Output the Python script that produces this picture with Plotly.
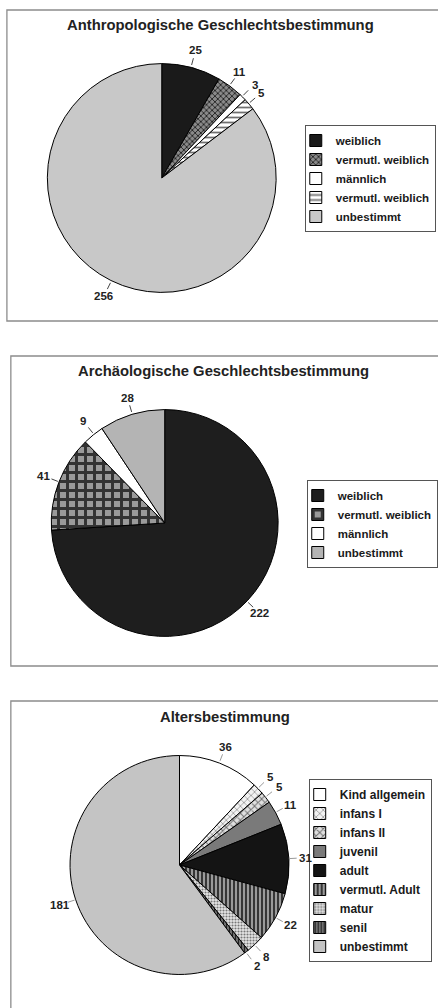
import math
import plotly.graph_objects as go

W, H = 438, 1008

# ---------------- data ----------------
title1 = "Anthropologische Geschlechtsbestimmung"
labels1 = ["weiblich", "vermutl. weiblich", "männlich", "vermutl. weiblich\u200b", "unbestimmt"]
values1 = [25, 11, 3, 5, 256]

title2 = "Archäologische Geschlechtsbestimmung"
labels2 = ["weiblich", "vermutl. weiblich", "männlich", "unbestimmt"]
values2 = [222, 41, 9, 28]

title3 = "Altersbestimmung"
labels3 = ["Kind allgemein", "infans I", "infans II", "juvenil", "adult",
           "vermutl. Adult", "matur", "senil", "unbestimmt"]
values3 = [36, 5, 5, 11, 31, 22, 8, 2, 181]

# ---------------- styles ----------------
FONT = "Liberation Sans"
colors1 = ["#1a1a1a", "#777777", "#ffffff", "#ffffff", "#c8c8c8"]
patterns1 = [dict(shape=""), dict(shape="x", fgcolor="#222222", bgcolor="#8a8a8a", size=4, solidity=0.4),
             dict(shape=""), dict(shape="-", fgcolor="#707070", bgcolor="#ffffff", size=5, solidity=0.35),
             dict(shape="")]
colors2 = ["#1e1e1e", "#8a8a8a", "#ffffff", "#b4b4b4"]
patterns2 = [dict(shape=""), dict(shape="+", fgcolor="#333333", bgcolor="#9a9a9a", size=9, solidity=0.55),
             dict(shape=""), dict(shape="")]
colors3 = ["#ffffff", "#eeeeee", "#dddddd", "#7a7a7a", "#141414", "#555555", "#dddddd", "#444444", "#c4c4c4"]
patterns3 = [dict(shape=""),
             dict(shape="x", fgcolor="#9a9a9a", bgcolor="#f2f2f2", size=5, solidity=0.3),
             dict(shape="x", fgcolor="#6e6e6e", bgcolor="#e0e0e0", size=5, solidity=0.35),
             dict(shape=""), dict(shape=""),
             dict(shape="|", fgcolor="#2a2a2a", bgcolor="#9a9a9a", size=4, solidity=0.45),
             dict(shape=".", fgcolor="#777777", bgcolor="#e6e6e6", size=3, solidity=0.4),
             dict(shape="|", fgcolor="#222222", bgcolor="#888888", size=3, solidity=0.5),
             dict(shape="")]


def px(x):
    return x / W


def py(y):
    return 1 - y / H


charts = [
    dict(title=title1, labels=labels1, values=values1, colors=colors1, patterns=patterns1,
         cx=164, cy=178, r=116, ty=25, tx=224, box=(7, 10, 460, 321), legend="legend",
         lx=309, ly=125, lfont=11.5, leader="#444444"),
    dict(title=title2, labels=labels2, values=values2, colors=colors2, patterns=patterns2,
         cx=167, cy=523, r=115, ty=371, tx=227, box=(11, 356, 460, 666), legend="legend2",
         lx=311, ly=480, lfont=11.5, leader="#444444"),
    dict(title=title3, labels=labels3, values=values3, colors=colors3, patterns=patterns3,
         cx=182, cy=865, r=111, ty=717, tx=228, box=(11, 701, 460, 1030), legend="legend3",
         lx=313, ly=779, lfont=12, leader="#999999"),
]

fig = go.Figure()
shapes, annotations = [], []
layout_legends = {}

for i, c in enumerate(charts):
    r = c["r"]
    fig.add_trace(go.Pie(
        labels=c["labels"], values=c["values"], sort=False, direction="clockwise", rotation=0,
        textinfo="none", hoverinfo="label+value",
        marker=dict(colors=c["colors"], pattern=dict(
            shape=[p.get("shape", "") for p in c["patterns"]],
            fgcolor=[p.get("fgcolor", "#000") for p in c["patterns"]],
            bgcolor=[p.get("bgcolor", col) for p, col in zip(c["patterns"], c["colors"])],
            size=[p.get("size", 6) for p in c["patterns"]],
            solidity=[p.get("solidity", 0.3) for p in c["patterns"]],
            fillmode="replace"),
            line=dict(color="#000000", width=1)),
        domain=dict(x=[px(c["cx"] - r), px(c["cx"] + r)], y=[py(c["cy"] + r), py(c["cy"] - r)]),
        legend=c["legend"], legendgroup=f"g{i}", showlegend=True,
    ))
    # panel border
    x0, y0, x1, y1 = c["box"]
    shapes.append(dict(type="rect", xref="paper", yref="paper", x0=px(x0), x1=px(x1),
                       y0=py(y1), y1=py(y0), line=dict(color="#8c8c8c", width=1.3), layer="below"))
    # title
    annotations.append(dict(text=f"<b>{c['title']}</b>", x=px(c["tx"]), y=py(c["ty"]), xref="paper",
                            yref="paper", showarrow=False, xanchor="center", yanchor="middle",
                            font=dict(family=FONT, size=14.8, color="#222222")))
    # value labels with leader lines (positions derived from values)
    total = sum(c["values"])
    cum = 0
    for v in c["values"]:
        mid = (cum + v / 2) / total * 2 * math.pi
        cum += v
        s, co = math.sin(mid), math.cos(mid)
        ax0, ay0 = c["cx"] + (r + 1) * s, c["cy"] - (r + 1) * co
        ax1, ay1 = c["cx"] + (r + 8) * s, c["cy"] - (r + 8) * co
        shapes.append(dict(type="line", xref="paper", yref="paper", x0=px(ax0), y0=py(ay0),
                           x1=px(ax1), y1=py(ay1), line=dict(color=c["leader"], width=1)))
        tx_, ty_ = c["cx"] + (r + 17) * s, c["cy"] - (r + 16) * co
        annotations.append(dict(text=f"<b>{v}</b>", x=px(tx_), y=py(ty_), xref="paper", yref="paper",
                                showarrow=False, xanchor="center", yanchor="middle",
                                font=dict(family=FONT, size=11.5, color="#222222")))
    layout_legends[c["legend"]] = dict(
        x=px(c["lx"]), y=py(c["ly"]), xanchor="left", yanchor="top",
        bordercolor="#555555", borderwidth=1, bgcolor="#ffffff",
        font=dict(family=FONT, size=c["lfont"], color="#1a1a1a", weight="bold"),
        itemwidth=30, tracegroupgap=0, indentation=-10)

fig.update_layout(
    width=W, height=H, margin=dict(l=0, r=0, t=0, b=0),
    paper_bgcolor="#ffffff", plot_bgcolor="#ffffff",
    shapes=shapes, annotations=annotations,
    font=dict(family=FONT),
    **layout_legends,
)

post = ("document.body.style.margin='0';document.body.style.padding='0';"
        "document.body.style.overflow='hidden';"
        "var gd=document.getElementById('{plot_id}');"
        "Plotly.relayout(gd,{width:438,height:1008});")
fig.write_html("out.html", post_script=post,
               config={"responsive": False, "displayModeBar": False})
